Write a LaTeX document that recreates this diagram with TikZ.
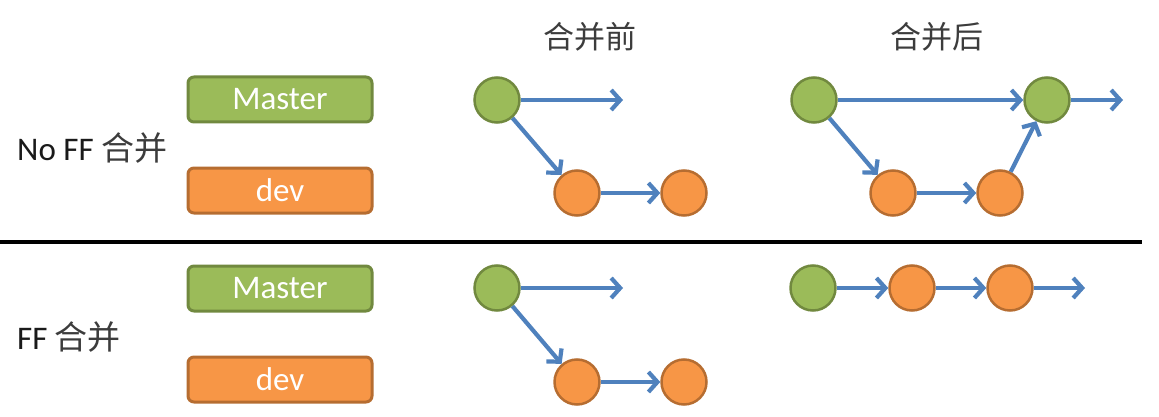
\documentclass[tikz,border=0pt]{standalone}
\usepackage{fontspec}
\setmainfont{Carlito}
\newfontfamily\cjk{Noto Sans CJK SC}
\usetikzlibrary{arrows.meta}
\definecolor{gfill}{HTML}{9BBB59}
\definecolor{gdraw}{HTML}{71893F}
\definecolor{ofill}{HTML}{F79646}
\definecolor{odraw}{HTML}{B66D31}
\definecolor{ablue}{HTML}{4F81BD}
\definecolor{txt}{HTML}{1A1A1A}
\tikzset{
  lbl/.style={font=\fontsize{33}{38}\selectfont, text=txt, inner sep=0pt},
  ttl/.style={font=\cjk\fontsize{31}{36}\selectfont, text=txt!85, inner sep=0pt},
  gbox/.style={rectangle, rounded corners=6pt, fill=gfill, draw=gdraw, line width=3pt,
    minimum width=184pt, minimum height=45pt, inner sep=0pt, text=white,
    font=\fontsize{33}{38}\selectfont},
  obox/.style={gbox, fill=ofill, draw=odraw},
  gdot/.style={circle, fill=gfill, draw=gdraw, line width=2.5pt, minimum size=45pt, inner sep=0pt},
  odot/.style={gdot, fill=ofill, draw=odraw},
  arr/.style={draw=ablue, line width=4.2pt, -{Straight Barb[length=9pt,width=20pt,line width=4.2pt]}},
}
\begin{document}
\begin{tikzpicture}[x=1pt,y=-1pt]
\useasboundingbox (0,0) rectangle (1159,417);
% titles
\node[ttl] (t1) at (590,37) {合并前};
\node[ttl] (t2) at (937,37) {合并后};
% row labels
\node[lbl, anchor=west] (l1) at (17,148) {No FF {\cjk\color{txt!85}合并}};
\node[lbl, anchor=west] (l2) at (17,337) {FF {\cjk\color{txt!85}合并}};
% legend boxes
\node[gbox] (m1) at (280,99.5) {Master};
\node[obox] (d1) at (280,190.5) {dev};
\node[gbox] (m2) at (280,288.5) {Master};
\node[obox] (d2) at (280,379.5) {dev};
% separator
\coordinate (sepL) at (0,242);
\coordinate (sepR) at (1142,242);
\draw[line width=4pt, black] (sepL) -- (sepR);
% top: before merge
\node[gdot] (a) at (497,100) {};
\node[odot] (b1) at (577,193) {};
\node[odot] (b2) at (684,193) {};
\coordinate (ae) at (623,100);
\draw[arr] (a) -- (ae);
\draw[arr] (a) -- (b1);
\draw[arr] (b1) -- (b2);
% top: after merge
\node[gdot] (c1) at (814,100) {};
\node[gdot] (c2) at (1047,100) {};
\node[odot] (e1) at (893,193) {};
\node[odot] (e2) at (1000,193) {};
\coordinate (ce) at (1123,100);
\draw[arr] (c1) -- (c2);
\draw[arr] (c1) -- (e1);
\draw[arr] (e1) -- (e2);
\draw[arr] (e2) -- (c2);
\draw[arr] (c2) -- (ce);
% bottom: before merge
\node[gdot] (f) at (497,288) {};
\node[odot] (g1) at (577,382) {};
\node[odot] (g2) at (684,382) {};
\coordinate (fe) at (623,288);
\draw[arr] (f) -- (fe);
\draw[arr] (f) -- (g1);
\draw[arr] (g1) -- (g2);
% bottom: after merge
\node[gdot] (h) at (813,288) {};
\node[odot] (k1) at (912,288) {};
\node[odot] (k2) at (1010,288) {};
\coordinate (ke) at (1085,288);
\draw[arr] (h) -- (k1);
\draw[arr] (k1) -- (k2);
\draw[arr] (k2) -- (ke);
\end{tikzpicture}
\end{document}
